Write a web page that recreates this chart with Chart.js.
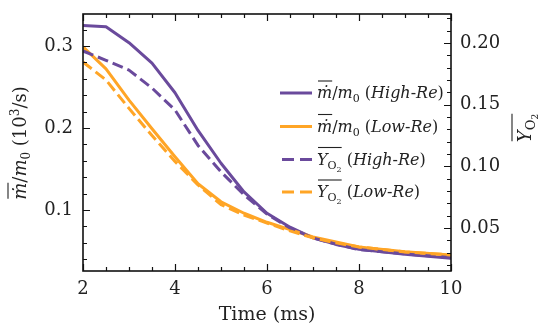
<!DOCTYPE html>
<html><head><meta charset="utf-8">
<script src="https://cdn.jsdelivr.net/npm/chart.js@4.4.1/dist/chart.umd.min.js"></script>
<style>html,body{margin:0;padding:0;background:#fff;}#wrap{width:538px;height:326px;position:relative;}</style>
</head><body><div id="wrap"><canvas id="c" width="538" height="326"></canvas></div>
<script>
const timeMs = [2, 2.5, 3, 3.5, 4, 4.5, 5, 5.5, 6, 6.5, 7, 7.5, 8, 9, 10];
const mdotHighRe = [0.325, 0.3235, 0.304, 0.279, 0.243, 0.197, 0.157, 0.122, 0.096, 0.079, 0.066, 0.058, 0.052, 0.046, 0.041];
const mdotLowRe = [0.299, 0.272, 0.234, 0.199, 0.165, 0.132, 0.110, 0.096, 0.085, 0.076, 0.067, 0.061, 0.055, 0.049, 0.045];
const yO2HighRe = [0.1935, 0.186, 0.178, 0.1635, 0.1457, 0.117, 0.0955, 0.077, 0.0614, 0.050, 0.042, 0.037, 0.0325, 0.029, 0.026];
const yO2LowRe = [0.1846, 0.170, 0.147, 0.125, 0.104, 0.085, 0.069, 0.0606, 0.054, 0.0477, 0.042, 0.038, 0.0347, 0.0306, 0.0282];
const xTicks = [2, 4, 6, 8, 10];
const leftTicks = [0.1, 0.2, 0.3];
const rightTicks = [0.05, 0.10, 0.15, 0.20];
const xMinorStep = 0.5, leftMinorStep = 0.02, rightMinorStep = 0.01;

const PURPLE = '#6a4a9c', ORANGE = '#ffa526';
const SERIF = '"DejaVu Serif"';

function pts(xs, ys) { return xs.map((x, i) => ({ x: x, y: ys[i] })); }

function drawRuns(ctx, runs, x, y) {
  let cx = x; const pos = [];
  for (const r of runs) {
    ctx.font = r.font;
    ctx.fillText(r.t, cx, y + (r.dy || 0));
    const w = ctx.measureText(r.t).width;
    pos.push([cx, cx + w]);
    cx += w;
  }
  return pos;
}
function runsWidth(ctx, runs) {
  let w = 0;
  for (const r of runs) { ctx.font = r.font; w += ctx.measureText(r.t).width; }
  return w;
}
function overline(ctx, x0, x1, y) {
  ctx.save(); ctx.lineWidth = 1.1; ctx.strokeStyle = '#222';
  ctx.beginPath(); ctx.moveTo(x0, y); ctx.lineTo(x1, y); ctx.stroke(); ctx.restore();
}

function legendRuns(kind, re, fs) {
  const it = 'italic ' + fs + 'px ' + SERIF, up = fs + 'px ' + SERIF;
  const sub = Math.round(fs * 0.7) + 'px ' + SERIF, sub2 = Math.round(fs * 0.52) + 'px ' + SERIF;
  let head;
  if (kind === 'm') head = [{ t: '\u1E41', font: it }, { t: '/', font: up }, { t: 'm', font: it }, { t: '0', font: sub, dy: 4 }];
  else head = [{ t: 'Y', font: it }, { t: 'O', font: sub, dy: 4 }, { t: '2', font: sub2, dy: 7 }];
  const parts = re.split('-');
  return { head: head, runs: head.concat([{ t: ' (', font: up }, { t: parts[0], font: it }, { t: '-', font: up }, { t: parts[1], font: it }, { t: ')', font: up }]) };
}

const framePlugin = {
  id: 'framePlugin',
  afterDraw(chart) {
    const ctx = chart.ctx, a = chart.chartArea;
    const xs = chart.scales.x, yl = chart.scales.y, yr = chart.scales.y2;
    ctx.save();
    ctx.strokeStyle = '#111'; ctx.lineWidth = 1.6;
    ctx.strokeRect(a.left, a.top, a.right - a.left, a.bottom - a.top);
    ctx.lineWidth = 1.2;
    ctx.beginPath();
    for (let v = xs.min; v <= xs.max + 1e-9; v += xMinorStep) {
      const px = Math.round(xs.getPixelForValue(v)) + 0.5;
      const major = Math.abs(v / 2 - Math.round(v / 2)) < 1e-6;
      const len = major ? 7 : 4;
      ctx.moveTo(px, a.bottom); ctx.lineTo(px, a.bottom - len);
      ctx.moveTo(px, a.top); ctx.lineTo(px, a.top + len);
    }
    for (let k = Math.ceil(yl.min / leftMinorStep); k * leftMinorStep <= yl.max; k++) {
      const py = Math.round(yl.getPixelForValue(k * leftMinorStep)) + 0.5;
      const major = k % 5 === 0;
      ctx.moveTo(a.left, py); ctx.lineTo(a.left + (major ? 7 : 4), py);
    }
    for (let k = Math.ceil(yr.min / rightMinorStep); k * rightMinorStep <= yr.max; k++) {
      const py = Math.round(yr.getPixelForValue(k * rightMinorStep)) + 0.5;
      const major = k % 5 === 0;
      ctx.moveTo(a.right, py); ctx.lineTo(a.right - (major ? 7 : 4), py);
    }
    ctx.stroke();

    const items = [
      { kind: 'm', re: 'High-Re', color: PURPLE, dash: [] },
      { kind: 'm', re: 'Low-Re', color: ORANGE, dash: [] },
      { kind: 'Y', re: 'High-Re', color: PURPLE, dash: [12, 6] },
      { kind: 'Y', re: 'Low-Re', color: ORANGE, dash: [12, 6] }
    ];
    const rowY = [93, 126.5, 159.5, 192];
    ctx.fillStyle = '#222'; ctx.textBaseline = 'alphabetic'; ctx.textAlign = 'left';
    items.forEach((it, i) => {
      const cy = rowY[i];
      ctx.save();
      ctx.strokeStyle = it.color; ctx.lineWidth = 3; ctx.setLineDash(it.dash);
      ctx.beginPath(); ctx.moveTo(it.dash.length ? 282 : 280, cy); ctx.lineTo(312, cy); ctx.stroke();
      ctx.restore();
      const lr = legendRuns(it.kind, it.re, 16);
      ctx.fillStyle = '#222';
      const pos = drawRuns(ctx, lr.runs, 317, cy + 5);
      const end = it.kind === 'm' ? pos[0][1] : pos[2][1];
      overline(ctx, pos[0][0] + 1, end, cy - 12);
    });

    ctx.save();
    ctx.translate(20, 143); ctx.rotate(-Math.PI / 2);
    const fs = 18, it = 'italic ' + fs + 'px ' + SERIF, up = fs + 'px ' + SERIF, sm = '12px ' + SERIF;
    const lruns = [{ t: '\u1E41', font: it }, { t: '/', font: up }, { t: 'm', font: it }, { t: '0', font: sm, dy: 4 },
      { t: ' (10', font: up }, { t: '3', font: sm, dy: -7 }, { t: '/s)', font: up }];
    const lw = runsWidth(ctx, lruns);
    ctx.fillStyle = '#222';
    const lp = drawRuns(ctx, lruns, -lw / 2, 6);
    overline(ctx, lp[0][0] + 1, lp[0][1], -12);
    ctx.restore();

    ctx.save();
    ctx.translate(526, 128); ctx.rotate(-Math.PI / 2);
    const rruns = [{ t: 'Y', font: it }, { t: 'O', font: '13px ' + SERIF, dy: 4 }, { t: '2', font: '9px ' + SERIF, dy: 7 }];
    const rw = runsWidth(ctx, rruns);
    ctx.fillStyle = '#222';
    const rp = drawRuns(ctx, rruns, -rw / 2, 5);
    overline(ctx, rp[0][0] + 1, rp[2][1], -14);
    ctx.restore();

    ctx.fillStyle = '#222'; ctx.font = '19px ' + SERIF; ctx.textAlign = 'center'; ctx.textBaseline = 'middle';
    ctx.fillText('Time (ms)', (a.left + a.right) / 2, 315);
    ctx.restore();
  }
};

new Chart(document.getElementById('c'), {
  type: 'line',
  data: {
    datasets: [
      { label: 'Y_O2 (Low-Re)', data: pts(timeMs, yO2LowRe), yAxisID: 'y2', borderColor: ORANGE, borderWidth: 3, borderDash: [11, 5], order: 0 },
      { label: 'Y_O2 (High-Re)', data: pts(timeMs, yO2HighRe), yAxisID: 'y2', borderColor: PURPLE, borderWidth: 3, borderDash: [11, 5], order: 1 },
      { label: 'mdot/m0 (Low-Re)', data: pts(timeMs, mdotLowRe), yAxisID: 'y', borderColor: ORANGE, borderWidth: 3, order: 2 },
      { label: 'mdot/m0 (High-Re)', data: pts(timeMs, mdotHighRe), yAxisID: 'y', borderColor: PURPLE, borderWidth: 3, order: 3 }
    ]
  },
  options: {
    responsive: false, animation: false,
    layout: { padding: { top: 14, left: 0, right: 0, bottom: 0 } },
    elements: { point: { radius: 0 }, line: { tension: 0, fill: false, borderCapStyle: 'butt', borderJoinStyle: 'round' } },
    plugins: { legend: { display: false }, tooltip: { enabled: false } },
    scales: {
      x: {
        type: 'linear', min: 2, max: 10,
        grid: { display: false, drawTicks: false }, border: { display: false },
        afterBuildTicks: s => { s.ticks = xTicks.map(v => ({ value: v })); },
        afterFit: s => { s.height = 55; s.paddingLeft = 0; s.paddingRight = 0; },
        ticks: { padding: 8, color: '#222', font: { family: 'DejaVu Serif', size: 18 }, maxRotation: 0, callback: v => String(v) }
      },
      y: {
        type: 'linear', position: 'left', min: 0.0256, max: 0.339,
        grid: { display: false, drawTicks: false }, border: { display: false },
        afterBuildTicks: s => { s.ticks = leftTicks.map(v => ({ value: v })); },
        afterFit: s => { s.width = 83; s.paddingTop = 0; s.paddingBottom = 0; },
        ticks: { padding: 10, color: '#222', font: { family: 'DejaVu Serif', size: 18 }, callback: v => v.toFixed(1) }
      },
      y2: {
        type: 'linear', position: 'right', min: 0.0152, max: 0.2235,
        grid: { display: false, drawTicks: false }, border: { display: false },
        afterBuildTicks: s => { s.ticks = rightTicks.map(v => ({ value: v })); },
        afterFit: s => { s.width = 87; s.paddingTop = 0; s.paddingBottom = 0; },
        ticks: { padding: 9, color: '#222', font: { family: 'DejaVu Serif', size: 18 }, callback: v => v.toFixed(2) }
      }
    }
  },
  plugins: [framePlugin]
});
</script>
</body></html>
